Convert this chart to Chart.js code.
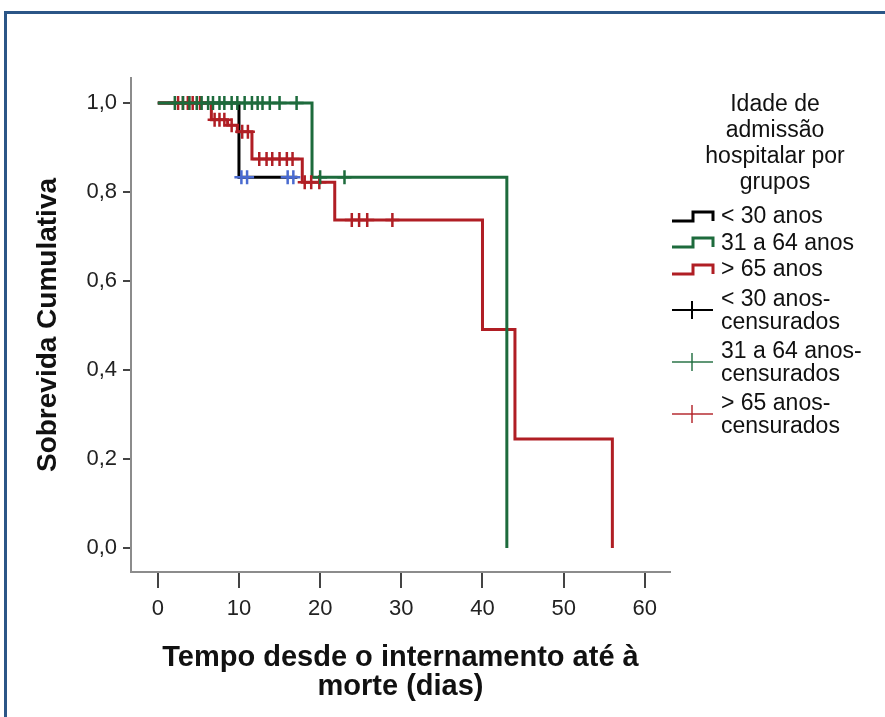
<!DOCTYPE html>
<html>
<head>
<meta charset="utf-8">
<script src="https://cdn.jsdelivr.net/npm/chart.js@4.4.1/dist/chart.umd.min.js"></script>
<style>
  html, body { margin: 0; padding: 0; background: #fff; }
  #wrap { position: relative; width: 885px; height: 717px; overflow: hidden; font-family: 'Liberation Sans', Arial, sans-serif; }
  #frame { position: absolute; left: 4px; top: 11px; width: 900px; height: 720px; border-top: 3px solid #2b5687; border-left: 3px solid #2b5687; }
  #chart { position: absolute; left: 0; top: 0; }
  #legend { position: absolute; left: 0; top: 0; width: 885px; height: 717px; color: #111; font-size: 23px; }
  .legend-title { position: absolute; left: 680px; width: 190px; top: 90px; text-align: center; line-height: 26px; }
  .legend-item { position: absolute; left: 671px; display: flex; align-items: center; }
  .legend-item span { margin-left: 6px; line-height: 23px; }
</style>
</head>
<body>
<div id="wrap">
  <div id="frame"></div>
  <canvas id="chart" width="885" height="717"></canvas>
  <div id="legend"></div>
</div>
<script>
// ===== Dados =====
const grupos = ['< 30 anos', '31 a 64 anos', '> 65 anos'];
const tituloLegenda = ['Idade de', 'admissão', 'hospitalar por', 'grupos'];
const xTicks = [0, 10, 20, 30, 40, 50, 60];
const yTicks = [0, 0.2, 0.4, 0.6, 0.8, 1.0];

// curvas de Kaplan-Meier (tempo do evento, sobrevida depois do evento)
const tempoMenos30 = [0, 10, 17.2];
const survMenos30 = [1.0, 0.833, 0.833];
const tempo3164 = [0, 19, 43];
const surv3164 = [1.0, 0.833, 0];
const tempoMais65 = [0, 6.6, 8.6, 9.8, 11.6, 17.8, 21.8, 40, 44, 56];
const survMais65 = [1.0, 0.962, 0.95, 0.935, 0.874, 0.822, 0.737, 0.491, 0.245, 0];

// censurados
const censMenos30X = [10.3, 11.0, 16.0, 16.7];
const censMenos30Y = [0.833, 0.833, 0.833, 0.833];
const cens3164X = [2.1, 3.1, 3.9, 4.8, 5.4, 6.2, 6.8, 7.6, 8.2, 9.1, 9.8, 10.7, 11.6, 12.3, 12.9, 13.8, 15.0, 17.1, 20.0, 23.0];
const cens3164Y = [1, 1, 1, 1, 1, 1, 1, 1, 1, 1, 1, 1, 1, 1, 1, 1, 1, 1, 0.833, 0.833];
const censMais65X = [2.5, 3.1, 3.7, 4.3, 5.2, 7.0, 7.6, 8.2, 9.1, 10.4, 11.1, 12.5, 13.4, 14.1, 15.0, 15.9, 16.6, 18.1, 18.9, 19.9, 23.9, 24.8, 25.8, 28.9];
const censMais65Y = [1, 1, 1, 1, 1, 0.962, 0.962, 0.962, 0.95, 0.935, 0.935, 0.874, 0.874, 0.874, 0.874, 0.874, 0.874, 0.822, 0.822, 0.822, 0.737, 0.737, 0.737, 0.737];

const PRETO = '#000000';
const VERDE = '#1d6b3c';
const VERMELHO = '#b01e24';
const AZUL = '#4a6bd0';
const FONTE = "'Liberation Sans', Arial, sans-serif";

const pts = (xs, ys) => xs.map((x, i) => ({ x, y: ys[i] }));

function curva(label, xs, ys, color, order) {
  return {
    label,
    data: pts(xs, ys),
    showLine: true,
    stepped: 'before',
    borderColor: color,
    borderWidth: 3,
    pointRadius: 0,
    order,
  };
}

function censura(label, xs, ys, color) {
  return {
    label,
    data: pts(xs, ys),
    showLine: false,
    pointStyle: 'cross',
    pointRadius: 7,
    borderColor: color,
    pointBorderWidth: 2.5,
    order: 0,
  };
}

// ===== Legenda =====
function renderLegend() {
  const legend = document.getElementById('legend');
  const cores = [PRETO, VERDE, VERMELHO];
  const coresCens = [PRETO, 'rgba(29,107,60,0.7)', 'rgba(176,30,36,0.7)'];
  let html = `<div class="legend-title">${tituloLegenda.join('<br>')}</div>`;

  grupos.forEach((g, i) => {
    const top = 204 + i * 26.5;
    html += `
      <div class="legend-item" style="top:${top}px">
        <svg width="44" height="16"><polyline points="1,13 22,13 22,4 42,4 42,13" fill="none" stroke="${cores[i]}" stroke-width="3"/></svg>
        <span>${g}</span>
      </div>`;
  });

  grupos.forEach((g, i) => {
    const top = 287 + i * 52;
    html += `
      <div class="legend-item" style="top:${top}px">
        <svg width="44" height="22"><line x1="1" y1="11" x2="42" y2="11" stroke="${coresCens[i]}" stroke-width="2"/><line x1="21" y1="2" x2="21" y2="20" stroke="${coresCens[i]}" stroke-width="2"/></svg>
        <span>${g}-<br>censurados</span>
      </div>`;
  });

  legend.innerHTML = html;
}

// ===== Gráfico =====
function renderChart() {
  const canvas = document.getElementById('chart');

  new Chart(canvas, {
    type: 'scatter',
    data: {
      datasets: [
        curva(grupos[0], tempoMenos30, survMenos30, PRETO, 3),
        curva(grupos[1], tempo3164, surv3164, VERDE, 1),
        curva(grupos[2], tempoMais65, survMais65, VERMELHO, 2),
        censura(grupos[0] + '-censurados', censMenos30X, censMenos30Y, AZUL),
        censura(grupos[1] + '-censurados', cens3164X, cens3164Y, VERDE),
        censura(grupos[2] + '-censurados', censMais65X, censMais65Y, VERMELHO),
      ],
    },
    options: {
      responsive: false,
      animation: false,
      layout: { padding: { top: 78, right: 215, left: 0, bottom: 0 } },
      plugins: { legend: { display: false }, tooltip: { enabled: false } },
      scales: {
        x: {
          type: 'linear',
          min: -3.3,
          max: 63.1,
          afterBuildTicks: (scale) => { scale.ticks = xTicks.map((v) => ({ value: v })); },
          afterFit: (scale) => { scale.height = 145; },
          grid: { drawOnChartArea: false, tickLength: 16, color: '#444', lineWidth: 2 },
          border: { color: '#8c8c8c', width: 2 },
          ticks: { color: '#222', font: { family: FONTE, size: 22 }, padding: 8, maxRotation: 0 },
          title: {
            display: true,
            text: ['Tempo desde o internamento até à', 'morte (dias)'],
            color: '#111',
            font: { family: FONTE, size: 29, weight: 'bold', lineHeight: 1 },
            padding: { top: 0, bottom: 16 },
          },
        },
        y: {
          type: 'linear',
          min: -0.054,
          max: 1.056,
          afterBuildTicks: (scale) => { scale.ticks = yTicks.map((v) => ({ value: v })); },
          afterFit: (scale) => { scale.width = 131; },
          grid: { drawOnChartArea: false, tickLength: 8, color: '#444', lineWidth: 2 },
          border: { color: '#8c8c8c', width: 2 },
          ticks: {
            color: '#222',
            font: { family: FONTE, size: 22 },
            padding: 6,
            callback: (v) => v.toFixed(1).replace('.', ','),
          },
          title: {
            display: true,
            text: 'Sobrevida Cumulativa',
            color: '#111',
            font: { family: FONTE, size: 28, weight: 'bold' },
            padding: { top: 31, bottom: 0 },
          },
        },
      },
    },
  });
}

renderLegend();
renderChart();
</script>
</body>
</html>
